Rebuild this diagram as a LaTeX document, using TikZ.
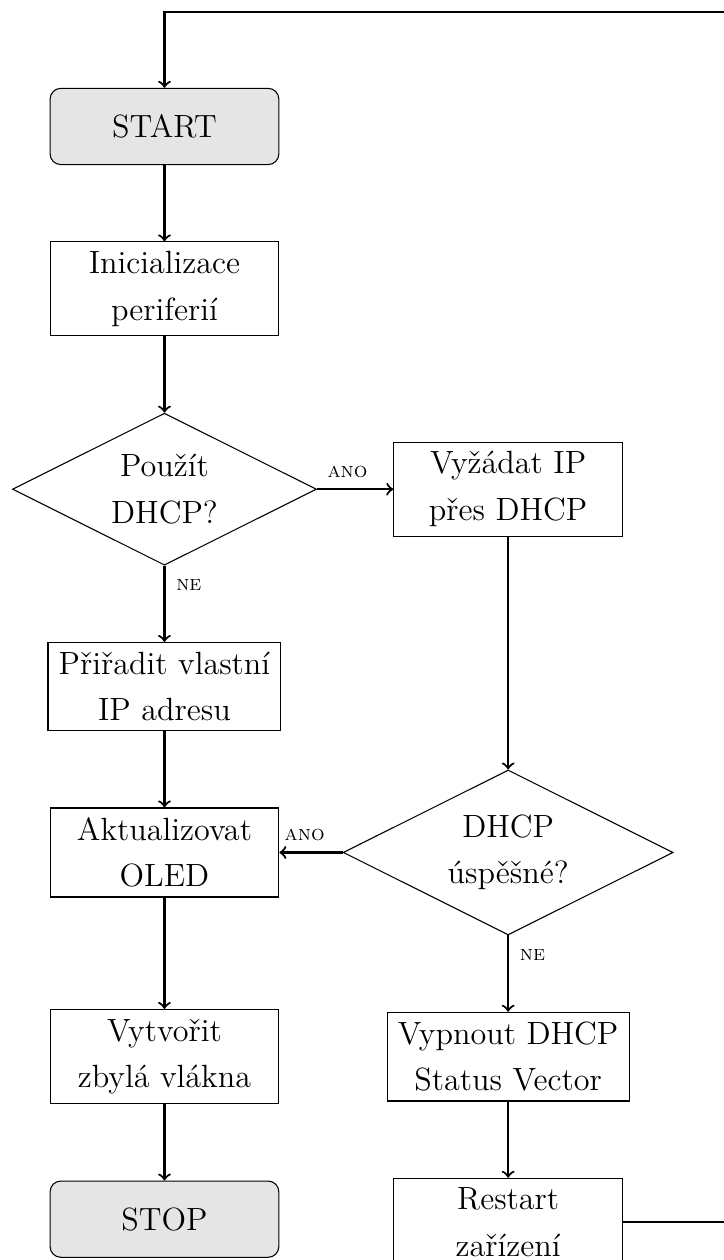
\documentclass[tikz,border=0pt,12pt]{standalone}
\usetikzlibrary{shapes.geometric,positioning}
\linespread{1.2}

\begin{document}
\begin{tikzpicture}[
    node distance=1cm,
    startstop/.style={rectangle, rounded corners, draw, fill=gray!20, minimum width=3cm, minimum height=1cm, align=center},
    process/.style={rectangle, draw, inner ysep=3.5pt, minimum width=3cm, minimum height=1cm, align=center},
    decision/.style={diamond, draw, aspect=2, inner sep=3.6pt, align=center},
    flow/.style={thick, ->},
    answer/.style={font=\scriptsize}
  ]
    \useasboundingbox (-2.157,-14.866) rectangle (7.338,1.659);
    \clip (-2.157,-14.866) rectangle (7.338,1.659);

    \node[startstop] (start) {START};
    \node[process, below=of start] (init) {Inicializace\\periferií};
    \node[decision, below=of init] (usedhcp) {Použít\\DHCP?};
    \node[process, right=of usedhcp] (request) {Vyžádat IP\\přes DHCP};
    \node[process, below=of usedhcp] (static) {Přiřadit vlastní\\IP adresu};
    \node[process, below=of static] (oled) {Aktualizovat\\OLED};
    \node[decision] (dhcpok) at (request |- oled) {DHCP\\úspěšné?};
    \node[process, below=of dhcpok] (disable) {Vypnout DHCP\\Status Vector};
    \node[process, below=of disable] (restart) {Restart\\zařízení};
    \node[process] (threads) at (oled |- disable) {Vytvořit\\zbylá vlákna};
    \node[startstop, below=of threads] (stop) {STOP};

    \draw[flow] (start) -- (init);
    \draw[flow] (init) -- (usedhcp);
    \draw[flow] (usedhcp) -- node[pos=.4, above, answer] {\textsc{ano}} (request);
    \draw[flow] (usedhcp) -- node[near start, right, answer] {\textsc{ne}} (static);
    \draw[flow] (static) -- (oled);
    \draw[flow] (request) -- (dhcpok);
    \draw[flow] (dhcpok) -- node[pos=.6, above, answer] {\textsc{ano}} (oled);
    \draw[flow] (dhcpok) -- node[near start, right, answer] {\textsc{ne}} (disable);
    \draw[flow] (disable) -- (restart);
    \draw[flow] (oled) -- (threads);
    \draw[flow] (threads) -- (stop);
    \draw[flow] (restart.east) -- ++(2,0) |- ([yshift=1cm]start.north) -- (start);
\end{tikzpicture}
\end{document}
